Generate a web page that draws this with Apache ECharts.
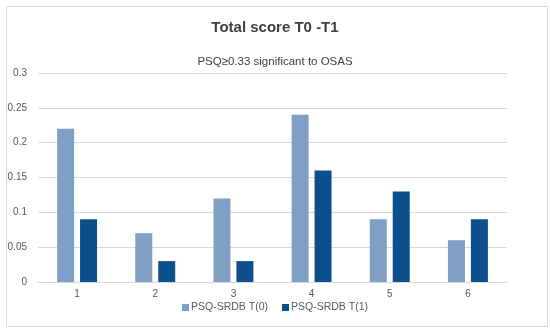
<!DOCTYPE html>
<html><head><meta charset="utf-8">
<script src="https://cdn.jsdelivr.net/npm/echarts@6/dist/echarts.min.js"></script>
<style>html,body{margin:0;padding:0;background:#fff}#c{width:550px;height:333px}</style>
</head><body><div id="c"></div>
<script>
var categories = ['1','2','3','4','5','6'];
var seriesNames = ['PSQ-SRDB T(0)','PSQ-SRDB T(1)'];
var t0Values = [0.22,0.07,0.12,0.24,0.09,0.06];
var t1Values = [0.09,0.03,0.03,0.16,0.13,0.09];
var yTicks = [0,0.05,0.1,0.15,0.2,0.25,0.3];
var chart = echarts.init(document.getElementById('c'));
chart.setOption({
  animation:false,
  backgroundColor:'#fff',
  graphic:[{type:'rect',shape:{x:6.5,y:6.5,width:541,height:320},style:{fill:'none',stroke:'#d9d9d9',lineWidth:1},silent:true}],
  title:[
    {text:'Total score T0 -T1',left:'center',top:15,textStyle:{fontFamily:'Liberation Sans, Arial',fontSize:15,fontWeight:'bold',color:'#404040'}},
    {text:'PSQ≥0.33 significant to OSAS',left:'center',top:51,textStyle:{fontFamily:'Liberation Sans, Arial',fontSize:11.5,fontWeight:'normal',color:'#404040'}}
  ],
  legend:{bottom:15,left:'center',itemWidth:7,itemHeight:7,itemGap:14,icon:'rect',
    textStyle:{fontFamily:'Liberation Sans, Arial',fontSize:10.5,color:'#595959',padding:[0,0,0,-3]},data:seriesNames},
  grid:{left:38,right:43,top:73,bottom:51,containLabel:false},
  xAxis:{type:'category',data:categories,axisTick:{show:false},
    axisLine:{lineStyle:{color:'#d9d9d9'}},
    axisLabel:{fontFamily:'Liberation Sans, Arial',fontSize:10,color:'#595959',margin:7}},
  yAxis:{type:'value',min:yTicks[0],max:yTicks[yTicks.length-1],interval:0.05,
    axisLine:{show:false},axisTick:{show:false},
    splitLine:{lineStyle:{color:'#d9d9d9'}},
    axisLabel:{fontFamily:'Liberation Sans, Arial',fontSize:10,color:'#595959',margin:11,
      formatter:function(v){return String(Math.round(v*100)/100);}}},
  series:[
    {name:seriesNames[0],type:'bar',data:t0Values,barWidth:17,barGap:'35%',itemStyle:{color:'#7f9fc5'}},
    {name:seriesNames[1],type:'bar',data:t1Values,barWidth:17,itemStyle:{color:'#0b4f8c'}}
  ]
});
</script></body></html>
